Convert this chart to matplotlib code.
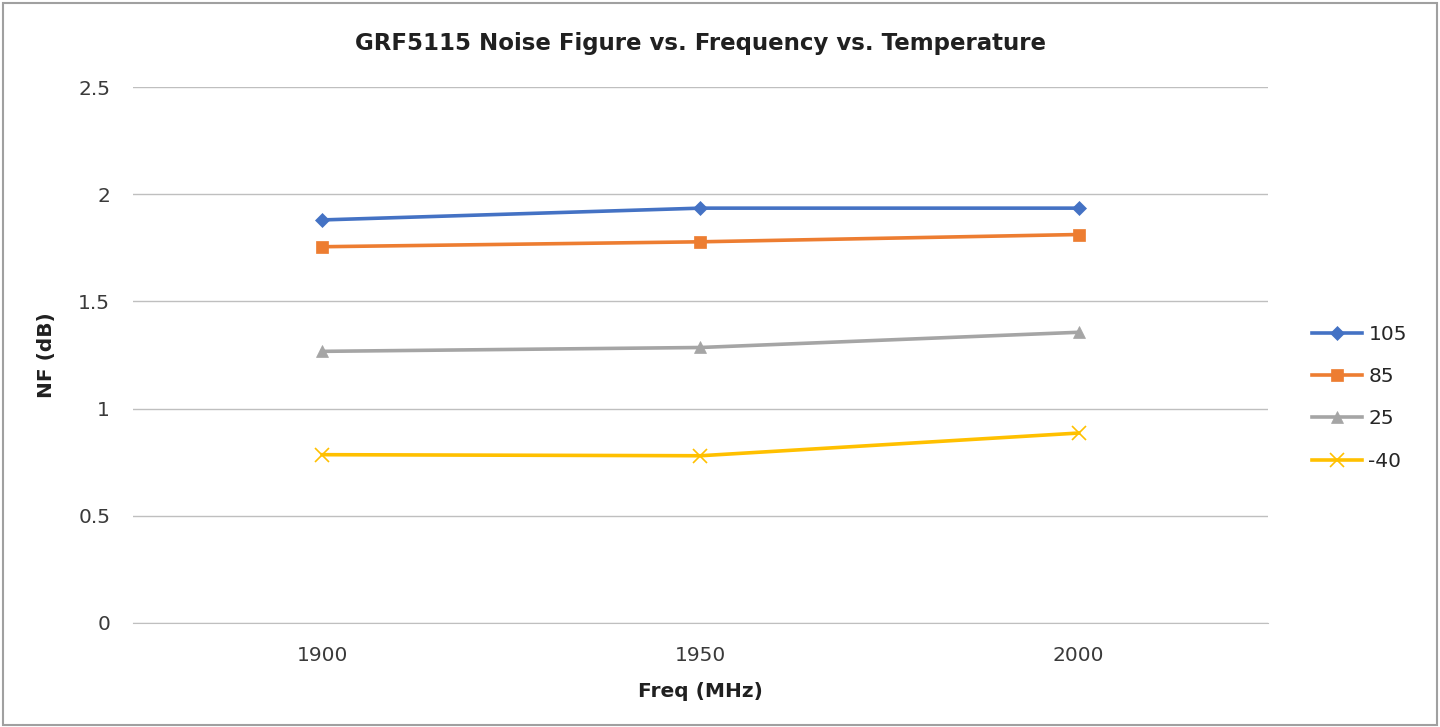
import matplotlib.pyplot as plt
from matplotlib.patches import Rectangle

plt.rcParams['font.family'] = ['DejaVu Sans']

freqs = ['1900', '1950', '2000']
temps = ['105', '85', '25', '-40']
nf_105 = [1.88, 1.935, 1.935]
nf_85 = [1.755, 1.778, 1.812]
nf_25 = [1.267, 1.285, 1.356]
nf_m40 = [0.785, 0.78, 0.886]

colors = ['#4472C4', '#ED7D31', '#A5A5A5', '#FFC000']
markers = ['D', 's', '^', 'x']
msizes = [7, 9, 9, 10]

fig = plt.figure(figsize=(14.4, 7.27), dpi=100)
ax = fig.add_axes([0.0924, 0.1431, 0.788, 0.7372])

x = range(len(freqs))
for vals, name, c, m, ms in zip([nf_105, nf_85, nf_25, nf_m40], temps, colors, markers, msizes):
    ax.plot(x, vals, color=c, lw=2.6, marker=m, markersize=ms,
            markeredgewidth=1.2 if m == 'x' else 0.5, markeredgecolor=c,
            label=name)

ax.set_xlim(-0.5, 2.5)
ax.set_ylim(0, 2.5)
ax.set_xticks(list(x))
ax.set_xticklabels(freqs)
ax.set_yticks([0, 0.5, 1, 1.5, 2, 2.5])
ax.set_yticklabels(['0', '0.5', '1', '1.5', '2', '2.5'])
ax.tick_params(length=0, labelsize=14.5, colors='#3A3A3A', pad=16.5)
ax.grid(axis='y', color='#BFBFBF', lw=1)
ax.set_axisbelow(True)
for s in ['top', 'left', 'right']:
    ax.spines[s].set_visible(False)
ax.spines['bottom'].set_color('#BFBFBF')

ax.set_title('GRF5115 Noise Figure vs. Frequency vs. Temperature',
             fontsize=16.5, fontweight='bold', color='#202020', pad=27)
ax.set_xlabel('Freq (MHz)', fontsize=14.5, fontweight='bold', color='#202020', labelpad=12)
ax.set_ylabel('NF (dB)', fontsize=14.5, fontweight='bold', color='#202020', labelpad=16)

ax.legend(loc='center left', bbox_to_anchor=(1.023, 0.42), frameon=False,
          fontsize=14.5, labelspacing=1.15, handlelength=2.5, handletextpad=0.3,
          labelcolor='#262626')

fig.patches.append(Rectangle((0.002, 0.003), 0.996, 0.993, transform=fig.transFigure,
                             fill=False, edgecolor='#A0A0A0', lw=1.5))

fig.savefig('out.png', dpi=100)
